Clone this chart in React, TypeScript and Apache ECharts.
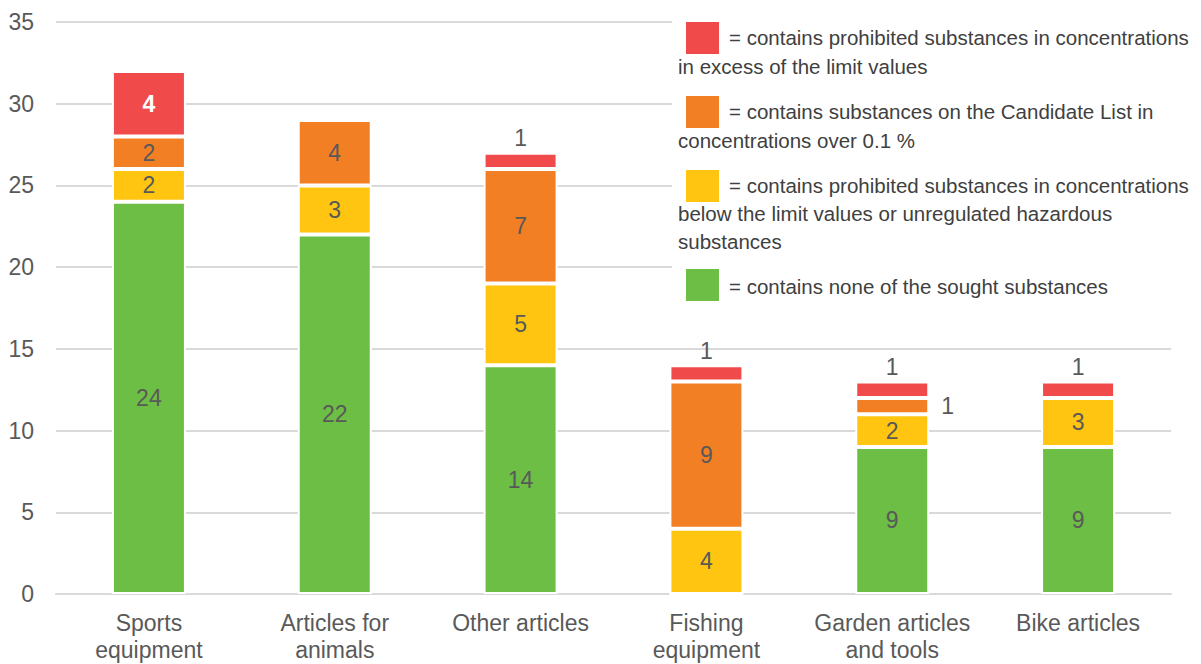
import React, { useEffect, useRef } from "react";
import * as echarts from "echarts";

const categories = [
  "Sports\nequipment",
  "Articles for\nanimals",
  "Other articles",
  "Fishing\nequipment",
  "Garden articles\nand tools",
  "Bike articles",
];
const noneValues = [24, 22, 14, 0, 9, 9];
const belowValues = [2, 3, 5, 4, 2, 3];
const candidateValues = [2, 4, 7, 9, 1, 0];
const excessValues = [4, 0, 1, 1, 1, 1];
const yTicks = { min: 0, max: 35, interval: 5 };

const legendItems = [
  { color: "#F04A4A", lines: ["= contains prohibited substances in concentrations", "in excess of the limit values"] },
  { color: "#F37F24", lines: ["= contains substances on the Candidate List in", "concentrations over 0.1 %"] },
  { color: "#FFC511", lines: ["= contains prohibited substances in concentrations", "below the limit values or unregulated hazardous", "substances"] },
  { color: "#6DBE45", lines: ["= contains none of the sought substances"] },
];

const FONT = "Liberation Sans, Arial, sans-serif";
const LABEL_COLOR = "#595959";

function buildData(values: number[], seriesKey: string) {
  return values.map((v, i) => {
    if (v === 0) return { value: 0, label: { show: false } };
    if (seriesKey === "excess" && v === 1) {
      return {
        value: v,
        label: { show: true, position: "top", distance: 3, color: LABEL_COLOR, fontWeight: "normal" },
      };
    }
    if (seriesKey === "candidate" && v === 1) {
      return { value: v, label: { show: true, position: "right", distance: 12 } };
    }
    return { value: v };
  });
}

export default function App() {
  const ref = useRef<HTMLDivElement>(null);
  useEffect(() => {
    if (!ref.current) return;
    const chart = echarts.init(ref.current, undefined, { renderer: "svg" });

    const graphics: any[] = [
      {
        type: "rect",
        shape: { x: 672, y: 8, width: 529, height: 312 },
        style: { fill: "#ffffff" },
        z: 100,
      },
    ];
    const squareTops = [22, 96, 170, 269];
    const lineCenters = [[37, 66], [111, 140], [185, 213, 241], [286]];
    legendItems.forEach((item, k) => {
      graphics.push({
        type: "rect",
        shape: { x: 686, y: squareTops[k], width: 33, height: 32 },
        style: { fill: item.color },
        z: 101,
      });
      item.lines.forEach((line, j) => {
        graphics.push({
          type: "text",
          x: j === 0 ? 729 : 678,
          y: lineCenters[k][j],
          style: {
            text: line,
            fill: "#404040",
            font: `20.5px ${FONT}`,
            verticalAlign: "middle",
            align: "left",
          },
          z: 101,
        });
      });
    });

    const commonLabel = {
      show: true,
      position: "inside",
      color: LABEL_COLOR,
      fontSize: 23,
      fontFamily: FONT,
    };
    const itemBorder = { borderColor: "#ffffff", borderWidth: 2 };

    chart.setOption({
      animation: false,
      backgroundColor: "#ffffff",
      textStyle: { fontFamily: FONT },
      grid: { left: 56, right: 30, top: 22, bottom: 70, containLabel: false },
      xAxis: {
        type: "category",
        data: categories,
        axisTick: { show: false },
        axisLine: { show: true, lineStyle: { color: "#d9d9d9", width: 2 } },
        axisLabel: {
          color: LABEL_COLOR,
          fontSize: 23,
          fontFamily: FONT,
          lineHeight: 27,
          margin: 15,
          interval: 0,
        },
      },
      yAxis: {
        type: "value",
        min: yTicks.min,
        max: yTicks.max,
        interval: yTicks.interval,
        axisLine: { show: false },
        axisTick: { show: false },
        splitLine: { lineStyle: { color: "#d9d9d9", width: 2 } },
        axisLabel: { color: LABEL_COLOR, fontSize: 23, fontFamily: FONT, margin: 22 },
      },
      series: [
        {
          name: "none",
          type: "bar",
          stack: "total",
          barWidth: 74,
          data: buildData(noneValues, "none"),
          itemStyle: { color: "#6DBE45", ...itemBorder },
          label: commonLabel,
        },
        {
          name: "below",
          type: "bar",
          stack: "total",
          barWidth: 74,
          data: buildData(belowValues, "below"),
          itemStyle: { color: "#FFC511", ...itemBorder },
          label: commonLabel,
        },
        {
          name: "candidate",
          type: "bar",
          stack: "total",
          barWidth: 74,
          data: buildData(candidateValues, "candidate"),
          itemStyle: { color: "#F37F24", ...itemBorder },
          label: commonLabel,
        },
        {
          name: "excess",
          type: "bar",
          stack: "total",
          barWidth: 74,
          data: buildData(excessValues, "excess"),
          itemStyle: { color: "#F04A4A", ...itemBorder },
          label: { ...commonLabel, color: "#ffffff", fontWeight: "bold" },
        },
      ],
      graphic: graphics,
    });
    return () => chart.dispose();
  }, []);
  return <div ref={ref} style={{ width: 1201, height: 664, position: "absolute", left: 0, top: 0 }} />;
}
